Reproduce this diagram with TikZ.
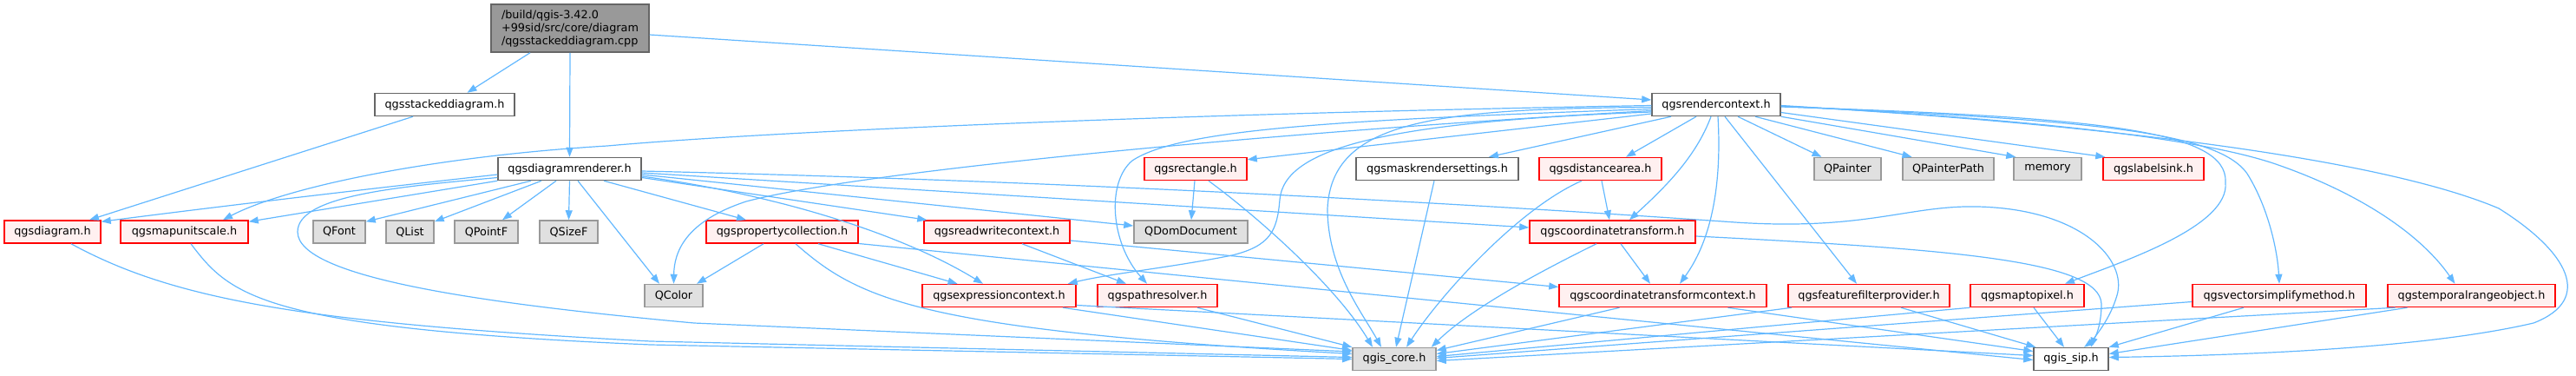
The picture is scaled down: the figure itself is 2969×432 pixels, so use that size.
\documentclass[tikz,border=0pt]{standalone}
\usepackage{fontspec}
\setmainfont{DejaVu Sans}
\usetikzlibrary{arrows.meta}
\definecolor{edgeblue}{HTML}{63B8FF}
\definecolor{redbd}{HTML}{FF0000}
\definecolor{redfill}{HTML}{FFF0F0}
\definecolor{graybd}{HTML}{999999}
\definecolor{grayfill}{HTML}{E0E0E0}
\definecolor{darkbd}{HTML}{666666}
\definecolor{rootfill}{HTML}{999999}
\begin{document}
\begin{tikzpicture}[x=1pt,y=-1pt,
  nbox/.style={draw, line width=1.5pt, minimum height=26pt, inner sep=0pt, font=\fontsize{12.8pt}{15pt}\selectfont, text=black},
  redn/.style={nbox, draw=redbd, fill=redfill},
  grayn/.style={nbox, draw=graybd, fill=grayfill},
  whiten/.style={nbox, draw=darkbd, fill=white},
  rootn/.style={nbox, draw=darkbd, fill=rootfill, align=left, minimum height=55pt},
  dep/.style={draw=edgeblue, line width=1.2pt, -{Triangle[length=11pt,width=8pt]}},
]
\useasboundingbox (0,0) rectangle (2969,432);

% ---------- nodes ----------
\node[rootn, minimum width=182pt] (root) at (657,32.5) {/build/qgis-3.42.0\\+99sid/src/core/diagram\\/qgsstackeddiagram.cpp};
\node[whiten, minimum width=161pt] (stacked) at (512.5,120.5) {qgsstackeddiagram.h};
\node[whiten, minimum width=148pt] (rctx) at (1978,120.5) {qgsrendercontext.h};

\node[whiten, minimum width=165pt] (renderer) at (656.5,194.5) {qgsdiagramrenderer.h};
\node[redn, minimum width=118pt] (rect) at (1378,194.5) {qgsrectangle.h};
\node[whiten, minimum width=187pt] (mask) at (1656.5,194.5) {qgsmaskrendersettings.h};
\node[redn, minimum width=141pt] (dist) at (1844.5,194.5) {qgsdistancearea.h};
\node[grayn, minimum width=77pt] (qpainter) at (2129.5,194.5) {QPainter};
\node[grayn, minimum width=105pt] (qpath) at (2245.5,194.5) {QPainterPath};
\node[grayn, minimum width=78pt] (memory) at (2360,194.5) {memory};
\node[redn, minimum width=116pt] (lsink) at (2482,194.5) {qgslabelsink.h};

\node[redn, minimum width=111pt] (diagram) at (60.5,267) {qgsdiagram.h};
\node[redn, minimum width=147pt] (mus) at (212.5,267) {qgsmapunitscale.h};
\node[grayn, minimum width=60pt] (qfont) at (391,267) {QFont};
\node[grayn, minimum width=55pt] (qlist) at (472.5,267) {QList};
\node[grayn, minimum width=73pt] (qpointf) at (560.5,267) {QPointF};
\node[grayn, minimum width=67pt] (qsizef) at (655.5,267) {QSizeF};
\node[redn, minimum width=175pt] (prop) at (901.5,267) {qgspropertycollection.h};
\node[redn, minimum width=168pt] (rw) at (1149,267) {qgsreadwritecontext.h};
\node[grayn, minimum width=131pt] (qdom) at (1372.5,267) {QDomDocument};
\node[redn, minimum width=191pt] (ct) at (1858.5,267) {qgscoordinatetransform.h};

\node[grayn, minimum width=67pt] (qcolor) at (776.5,340.5) {QColor};
\node[redn, minimum width=177pt] (expr) at (1151.5,340.5) {qgsexpressioncontext.h};
\node[redn, minimum width=138pt] (path) at (1334,340.5) {qgspathresolver.h};
\node[redn, minimum width=239pt] (ctc) at (1916.5,340.5) {qgscoordinatetransformcontext.h};
\node[redn, minimum width=186pt] (ffp) at (2154,340.5) {qgsfeaturefilterprovider.h};
\node[redn, minimum width=131pt] (m2p) at (2336.5,340.5) {qgsmaptopixel.h};
\node[redn, minimum width=200pt] (vsm) at (2627,340.5) {qgsvectorsimplifymethod.h};
\node[redn, minimum width=193pt] (tro) at (2848.5,340.5) {qgstemporalrangeobject.h};

\node[grayn, minimum width=96pt] (core) at (1607,413.5) {qgis\_core.h};
\node[whiten, minimum width=86pt] (sip) at (2387,413.5) {qgis\_sip.h};

% ---------- root ----------
\draw[dep] ([xshift=-46pt]root.south) -- ([xshift=26pt]stacked.north);
\draw[dep] (root.south) -- (renderer.north);
\draw[dep] ([yshift=-7.5pt]root.east) -- ([yshift=5.5pt]rctx.west);
\draw[dep] ([xshift=-36.5pt]stacked.south) -- ([xshift=42.5pt]diagram.north);

% ---------- qgsdiagramrenderer.h ----------
\draw[dep] ([yshift=-6.5pt]renderer.west) .. controls (420,218) and (250,238) .. ([yshift=-2pt]diagram.north east);
\draw[dep] (renderer.south west) -- ([yshift=-2pt]mus.north east);
\draw[dep] ([xshift=-44.5pt]renderer.south) -- ([yshift=-2pt]qfont.north east);
\draw[dep] ([xshift=-32.5pt]renderer.south) -- ([yshift=-2pt]qlist.north east);
\draw[dep] ([xshift=-15.5pt]renderer.south) -- ([xshift=18.5pt]qpointf.north);
\draw[dep] (renderer.south) -- (qsizef.north);
\draw[dep] ([xshift=9.5pt]renderer.south) -- ([xshift=-16.5pt]qcolor.north);
\draw[dep] ([xshift=39.5pt]renderer.south) -- ([xshift=-41.5pt]prop.north);
\draw[dep] ([yshift=-10pt]renderer.east) -- ([xshift=4pt]rw.north west);
\draw[dep] ([yshift=-6.5pt]renderer.east) -- ([yshift=7pt]qdom.west);
\draw[dep] ([yshift=-8.5pt]renderer.east) .. controls (900,225) and (1040,270) .. ([xshift=-18.5pt]expr.north);
\draw[dep] ([yshift=-4.5pt]renderer.east) -- ([yshift=5pt]ct.west);
\draw[dep] ([yshift=-2.5pt]renderer.east) .. controls (1300,210) and (1800,242) .. (2000,256)
   .. controls (2150,266) and (2200,236) .. (2280,238)
   .. controls (2400,241) and (2452,300) .. (2440,340)
   .. controls (2432,368) and (2414,388) .. ([xshift=23pt]sip.north);
\draw[dep] ([yshift=-10pt]renderer.west) .. controls (460,215) and (343,225) .. (343,267)
   .. controls (343,320) and (560,350) .. (800,372) -- ([yshift=8.5pt]core.west);

% ---------- qgsrendercontext.h ----------
\draw[dep] ([yshift=-1pt]rctx.west) .. controls (1400,130) and (900,150) .. (700,168)
   .. controls (500,180) and (330,215) .. ([xshift=44.5pt]mus.north);
\draw[dep] ([yshift=-7pt]rctx.west) .. controls (1500,150) and (1000,195) .. (860,232)
   .. controls (790,255) and (777,290) .. (qcolor.north);
\draw[dep] ([yshift=-5pt]rctx.west) .. controls (1550,138) and (1360,148) .. (1305,185)
   .. controls (1275,210) and (1280,280) .. ([xshift=-12pt]path.north);
\draw[dep] ([yshift=-8.5pt]rctx.west) .. controls (1600,140) and (1480,170) .. (1475,230)
   .. controls (1472,265) and (1465,283) .. (1420,294)
   .. controls (1350,308) and (1280,315) .. ([xshift=-10pt]expr.north east);
\draw[dep] ([yshift=-3pt]rctx.west) .. controls (1650,125) and (1535,140) .. (1530,240)
   .. controls (1530,310) and (1570,360) .. ([xshift=-15pt]core.north);
\draw[dep] ([yshift=-10.5pt]rctx.west) -- ([yshift=-3pt]rect.north east);
\draw[dep] ([xshift=-52pt]rctx.south) -- ([xshift=59.5pt]mask.north);
\draw[dep] ([xshift=-23pt]rctx.south) -- ([xshift=29.5pt]dist.north);
\draw[dep] ([xshift=-6pt]rctx.south) .. controls (1955,180) and (1920,215) .. ([xshift=19.5pt]ct.north);
\draw[dep] ([xshift=2pt]rctx.south) .. controls (1985,220) and (1970,280) .. ([xshift=19.5pt]ctc.north);
\draw[dep] ([xshift=10pt]rctx.south) -- ([xshift=-14pt]ffp.north);
\draw[dep] ([xshift=25pt]rctx.south) -- ([xshift=-30pt]qpainter.north);
\draw[dep] ([xshift=45pt]rctx.south) -- ([xshift=-42pt]qpath.north);
\draw[dep] (rctx.south east) -- ([xshift=3pt]memory.north west);
\draw[dep] ([yshift=-9pt]rctx.east) -- ([xshift=3pt]lsink.north west);
\draw[dep] ([yshift=-2.5pt]rctx.east) .. controls (2420,135) and (2568,150) .. (2565,210)
   .. controls (2570,260) and (2450,300) .. ([xshift=43.5pt]m2p.north);
\draw[dep] ([yshift=-2pt]rctx.east) .. controls (2400,138) and (2555,150) .. (2590,200)
   .. controls (2615,240) and (2625,290) .. (vsm.north);
\draw[dep] ([yshift=-1.5pt]rctx.east) .. controls (2300,135) and (2520,155) .. (2620,188)
   .. controls (2720,222) and (2790,270) .. ([xshift=-19pt]tro.north);
\draw[dep] ([yshift=-1pt]rctx.east) .. controls (2450,145) and (2750,185) .. (2880,240)
   .. controls (2960,290) and (2990,345) .. (2920,372)
   .. controls (2800,400) and (2600,409) .. ([yshift=2pt]sip.east);

% ---------- second level ----------
\draw[dep] ([xshift=-1pt]rect.south) -- ([xshift=0.5pt]qdom.north);
\draw[dep] ([xshift=15pt]rect.south) .. controls (1450,250) and (1540,330) .. ([xshift=-25pt]core.north);
\draw[dep] ([xshift=-3.5pt]mask.south) -- ([xshift=2pt]core.north);
\draw[dep] ([xshift=-21.5pt]dist.south) .. controls (1750,240) and (1660,340) .. ([xshift=14pt]core.north);
\draw[dep] ([xshift=1.5pt]dist.south) -- ([xshift=-3.5pt]ct.north);
\draw[dep] ([xshift=-18.5pt]ct.south) .. controls (1760,320) and (1690,360) .. ([xshift=-6pt]core.north east);
\draw[dep] ([xshift=9.5pt]ct.south) -- ([xshift=-14.5pt]ctc.north);
\draw[dep] ([yshift=-5pt]ct.east) .. controls (2250,287) and (2420,300) .. (2422,350)
   .. controls (2422,372) and (2416,390) .. ([xshift=15pt]sip.north);
\draw[dep] ([xshift=-50pt]ctc.south) -- ([yshift=10pt]core.east);
\draw[dep] ([xshift=75pt]ctc.south) -- ([yshift=9pt]sip.west);
\draw[dep] ([xshift=-89pt]ffp.south) -- ([yshift=6pt]core.east);
\draw[dep] ([xshift=37pt]ffp.south) -- ([xshift=3pt]sip.north west);
\draw[dep] (m2p.south west) -- ([yshift=3pt]core.east);
\draw[dep] ([xshift=7.5pt]m2p.south) -- ([xshift=-8pt]sip.north);
\draw[dep] ([yshift=-7pt]vsm.west) -- ([yshift=1pt]core.east);
\draw[dep] ([xshift=-41pt]vsm.south) -- (sip.north east);
\draw[dep] ([xshift=-88pt]tro.south) -- ([yshift=-2pt]core.east);
\draw[dep] ([xshift=-74pt]tro.south) -- ([yshift=6pt]sip.east);
\draw[dep] ([xshift=73.5pt]expr.south) -- ([yshift=10pt]core.west);
\draw[dep] ([yshift=-11pt]expr.east) -- ([yshift=4pt]sip.west);
\draw[dep] ([xshift=46pt]path.south) -- (core.north west);
\draw[dep] ([xshift=29pt]rw.south) -- ([xshift=-36pt]path.north);
\draw[dep] ([yshift=-10pt]rw.east) -- ([yshift=10pt]ctc.west);
\draw[dep] ([xshift=-21.5pt]prop.south) -- ([xshift=26.5pt]qcolor.north);
\draw[dep] ([xshift=41.5pt]prop.south) -- ([xshift=-48pt]expr.north);
\draw[dep] ([xshift=15.5pt]prop.south) .. controls (990,345) and (1060,380) .. ([yshift=6pt]core.west);
\draw[dep] ([yshift=-13.5pt]prop.east) -- ([yshift=-1pt]sip.west);
\draw[dep] ([xshift=21.5pt]diagram.south) .. controls (200,345) and (350,372) .. (750,393) -- ([yshift=2pt]core.west);
\draw[dep] ([xshift=7.5pt]mus.south) .. controls (265,340) and (300,378) .. (750,397) -- (core.west);
\end{tikzpicture}
\end{document}
